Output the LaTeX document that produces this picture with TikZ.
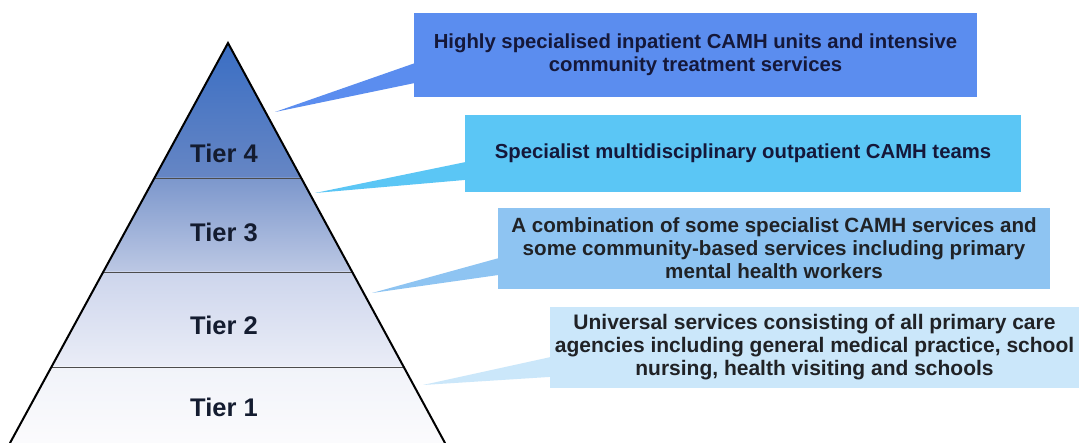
\documentclass[tikz,border=0pt]{standalone}
\usepackage{fontspec}
\setmainfont{Liberation Sans}
\usetikzlibrary{calc}
\definecolor{boxA}{HTML}{5B8DEF}
\definecolor{boxB}{HTML}{5BC6F5}
\definecolor{boxC}{HTML}{8EC4F2}
\definecolor{boxD}{HTML}{CBE7FA}
\definecolor{navy}{HTML}{15183A}
\definecolor{darktext}{HTML}{202226}
\definecolor{tierText}{HTML}{141C30}
\definecolor{bandA}{HTML}{3A6EC4}
\definecolor{bandAb}{HTML}{6686C4}
\definecolor{bandB}{HTML}{7C97CC}
\definecolor{bandBb}{HTML}{BCC8E4}
\definecolor{bandC}{HTML}{CDD5EC}
\definecolor{bandCb}{HTML}{EAEDF7}
\definecolor{bandD}{HTML}{F1F3F9}
\definecolor{bandDb}{HTML}{FBFBFD}
\begin{document}
\begin{tikzpicture}[x=1pt,y=-1pt,
  callout/.style={inner sep=0pt, align=center, anchor=center,
    font=\bfseries\fontsize{#1}{23}\selectfont},
  callout/.default=20.3,
  tierlabel/.style={inner sep=0pt, anchor=center, text=tierText,
    font=\bfseries\fontsize{25.5}{28}\selectfont},
  tierline/.style={draw=black!70, line width=0.9pt},
  pyrside/.style={draw=black, line width=2pt, line cap=round}]
\useasboundingbox (0,0) rectangle (1079,443);
\fill[white] (0,0) rectangle (1079,443);

% pyramid corners
\coordinate (A) at (228,43);
\coordinate (L) at (10,443);
\coordinate (R) at (445,443);
\coordinate (L1) at ($(A)!0.3375!(L)$);
\coordinate (R1) at ($(A)!0.3375!(R)$);
\coordinate (L2) at ($(A)!0.5725!(L)$);
\coordinate (R2) at ($(A)!0.5725!(R)$);
\coordinate (L3) at ($(A)!0.81!(L)$);
\coordinate (R3) at ($(A)!0.81!(R)$);

\begin{scope}
  \clip (A) -- (L) -- (R) -- cycle;
  \shade[top color=bandA, bottom color=bandAb] (0,43) rectangle (460,178);
  \shade[top color=bandB, bottom color=bandBb] (0,178) rectangle (460,272);
  \shade[top color=bandC, bottom color=bandCb] (0,272) rectangle (460,367);
  \shade[top color=bandD, bottom color=bandDb] (0,367) rectangle (460,443);
\end{scope}
\draw[tierline] (L1) -- (R1);
\draw[tierline] (L2) -- (R2);
\draw[tierline] (L3) -- (R3);
\draw[pyrside] (L) -- (A) -- (R);

\node[tierlabel] (t4) at (224,153) {Tier 4};
\node[tierlabel] (t3) at (224,232) {Tier 3};
\node[tierlabel] (t2) at (224,325) {Tier 2};
\node[tierlabel] (t1) at (224,407) {Tier 1};

% callout boxes
\node[callout, fill=boxA, text=navy, minimum width=563pt, minimum height=84pt]
  (b1) at (695.5,55) {Highly specialised inpatient CAMH units and intensive\\community treatment services};
\node[callout, fill=boxB, text=navy, minimum width=556pt, minimum height=77pt]
  (b2) at (743,153.5) {Specialist multidisciplinary outpatient CAMH teams};
\node[callout=20.6, fill=boxC, text=darktext, minimum width=552pt, minimum height=81pt]
  (b3) at (774,248.5) {A combination of some specialist CAMH services and\\some community-based services including primary\\mental health workers};
\node[callout=21, fill=boxD, text=darktext, minimum width=529pt, minimum height=81pt]
  (b4) at (814.5,347.5) {Universal services consisting of all primary care\\agencies including general medical practice, school\\nursing, health visiting and schools};

% pointer tips
\coordinate (p1) at (275,112);
\coordinate (p2) at (315,193);
\coordinate (p3) at (372,293);
\coordinate (p4) at (423,385);

\fill[boxA] (p1) -- ($(b1.north west)+(2,50)$) -- ($(b1.north west)+(2,70)$) -- cycle;
\fill[boxB] (p2) -- ($(b2.north west)+(2,47)$) -- ($(b2.north west)+(2,65)$) -- cycle;
\fill[boxC] (p3) -- ($(b3.north west)+(2,50)$) -- ($(b3.north west)+(2,67)$) -- cycle;
\fill[boxD] (p4) -- ($(b4.north west)+(2,50)$) -- ($(b4.north west)+(2,70)$) -- cycle;
\end{tikzpicture}
\end{document}
